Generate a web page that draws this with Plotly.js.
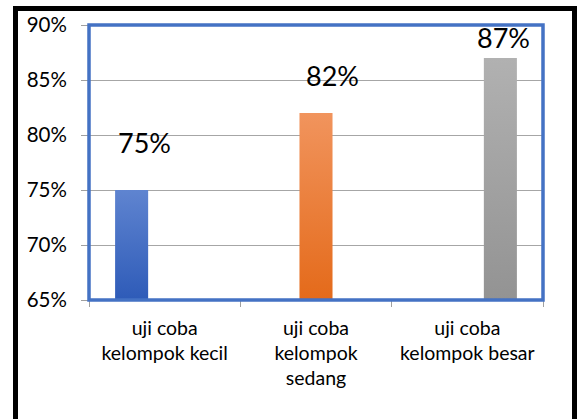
<!DOCTYPE html>
<html>
<head>
<meta charset="utf-8">
<script src="https://cdn.plot.ly/plotly-3.0.1.min.js"></script>
<style>
  html, body { margin: 0; padding: 0; background: #ffffff; width: 578px; height: 419px; overflow: hidden; }
  #chart { position: absolute; left: 0; top: 0; width: 578px; height: 419px; }
  #frame { position: absolute; left: 13px; top: 6px; width: 554px; height: 500px;
           border: 5px solid #000; border-bottom: none; pointer-events: none; z-index: 10; }
</style>
</head>
<body>
<div id="chart"></div>
<div id="frame"></div>
<script>
// ---- data ----
var categories = ["uji coba<br>kelompok kecil", "uji coba<br>kelompok<br>sedang", "uji coba<br>kelompok besar"];
var seriesNames = ["uji coba kelompok kecil", "uji coba kelompok sedang", "uji coba kelompok besar"];
var seriesKecil  = [0.75, null, null];
var seriesSedang = [null, 0.82, null];
var seriesBesar  = [null, null, 0.87];
var yTickValues = [0.65, 0.70, 0.75, 0.80, 0.85, 0.90];
var yRange = [0.65, 0.90];

// ---- styling ----
var colors = ["#4472C4", "#F07E2A", "#A5A5A5"];
var gradTop = ["#5F84D0", "#F1945D", "#B1B1B1"];
var gradBottom = ["#2E5BB8", "#E46A1A", "#939393"];
var labelShiftX = [-20, 16, 36];
var labelShiftY = [48, 38, 21];
var fontFam = "Lato, 'Open Sans', sans-serif";

var seriesList = [seriesKecil, seriesSedang, seriesBesar];
var traces = seriesList.map(function (vals, i) {
  return {
    type: "bar",
    name: seriesNames[i],
    x: categories,
    y: vals.map(function (v) { return v === null ? null : v - yRange[0]; }),
    base: yRange[0],
    marker: { color: colors[i], line: { width: 0 } },
    hoverinfo: "skip"
  };
});

var annotations = [];
seriesList.forEach(function (vals, i) {
  vals.forEach(function (v, j) {
    if (v === null) return;
    annotations.push({
      x: categories[j], y: v, xref: "x", yref: "y",
      text: Math.round(v * 100) + "%",
      showarrow: false,
      xshift: labelShiftX[i], yshift: labelShiftY[i],
      font: { family: fontFam, size: 27, color: "#000" }
    });
  });
});

var layout = {
  width: 578, height: 419,
  margin: { l: 89, r: 35, t: 25, b: 119 },
  paper_bgcolor: "#ffffff",
  plot_bgcolor: "#ffffff",
  showlegend: false,
  barmode: "group",
  bargap: 0.345,
  bargroupgap: 0,
  font: { family: fontFam, color: "#000" },
  xaxis: {
    type: "category",
    tickson: "boundaries",
    ticks: "outside", ticklen: 6, tickcolor: "#A0A0A0", tickwidth: 1,
    ticklabelstandoff: 14,
    tickfont: { family: fontFam, size: 19.5, color: "#000" },
    showgrid: false, zeroline: false, showline: false,
    fixedrange: true
  },
  yaxis: {
    range: yRange,
    tickvals: yTickValues,
    tickformat: ".0%",
    ticks: "outside", ticklen: 7, tickcolor: "#A0A0A0", tickwidth: 1,
    ticklabelstandoff: 10,
    tickfont: { family: fontFam, size: 20.5, color: "#000" },
    showgrid: true, gridcolor: "#A6A6A6", gridwidth: 1,
    zeroline: false, showline: false,
    fixedrange: true
  },
  shapes: [
    { type: "rect", xref: "paper", yref: "paper", x0: 0, x1: 1, y0: 0, y1: 1,
      line: { color: "#4472C4", width: 3.5 }, fillcolor: "rgba(0,0,0,0)", layer: "above" }
  ],
  annotations: annotations
};

Plotly.newPlot("chart", traces, layout, { staticPlot: true, displayModeBar: false }).then(function (gd) {
  // add vertical gradients to the bars drawn by Plotly
  var svg = gd.querySelector("svg.main-svg");
  var ns = "http://www.w3.org/2000/svg";
  var defs = svg.querySelector("defs") || svg.insertBefore(document.createElementNS(ns, "defs"), svg.firstChild);
  colors.forEach(function (c, i) {
    var g = document.createElementNS(ns, "linearGradient");
    g.setAttribute("id", "barGrad" + i);
    g.setAttribute("x1", "0"); g.setAttribute("y1", "0");
    g.setAttribute("x2", "0"); g.setAttribute("y2", "1");
    var s1 = document.createElementNS(ns, "stop");
    s1.setAttribute("offset", "0"); s1.setAttribute("stop-color", gradTop[i]);
    var s2 = document.createElementNS(ns, "stop");
    s2.setAttribute("offset", "1"); s2.setAttribute("stop-color", gradBottom[i]);
    g.appendChild(s1); g.appendChild(s2);
    defs.appendChild(g);
  });
  var traceGroups = gd.querySelectorAll(".barlayer .trace");
  traceGroups.forEach(function (tg, i) {
    tg.querySelectorAll("path").forEach(function (p) {
      p.style.fill = "url(#barGrad" + i + ")";
    });
  });
});
</script>
</body>
</html>
